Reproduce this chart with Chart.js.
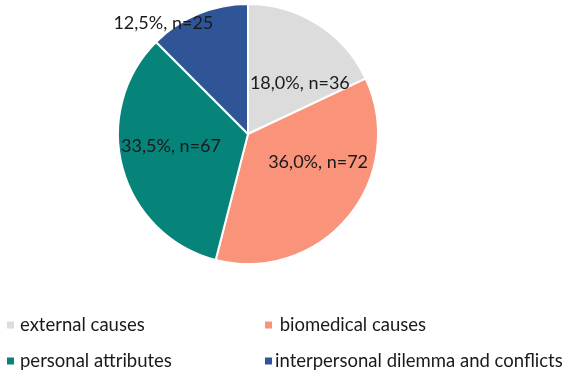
<!DOCTYPE html>
<html>
<head>
<meta charset="utf-8">
<script src="https://cdn.jsdelivr.net/npm/chart.js@4.4.1/dist/chart.umd.min.js"></script>
<style>
    html, body { margin: 0; padding: 0; background: #ffffff; }
    #wrap { width: 566px; height: 375px; position: relative; }
</style>
</head>
<body>
<div id="wrap"><canvas id="pieChart" width="566" height="375"></canvas></div>
<script>
// categories and values
const categories = ['external causes', ' biomedical causes', 'personal attributes', 'interpersonal dilemma and conflicts'];
const percentages = [18.0, 36.0, 33.5, 12.5];
const counts = [36, 72, 67, 25];
const sliceColors = ['#dcdcdc', '#f9937a', '#07847a', '#2f5597'];

// label placement: angle shift (deg) from slice middle, distance as fraction of radius
const labelShift = [13, -18, 6, -15];
const labelDist = [0.56, 0.58, 0.6, 1.07];

const LABEL_FONT = '18px Lato, "Open Sans", sans-serif';
const LEGEND_FONT = '18.5px Lato, "Open Sans", sans-serif';

const sliceLabels = {
    id: 'sliceLabels',
    afterDatasetsDraw(chart) {
        const ctx = chart.ctx;
        const meta = chart.getDatasetMeta(0);
        ctx.save();
        ctx.font = LABEL_FONT;
        ctx.fillStyle = '#1a1a1a';
        ctx.textAlign = 'center';
        ctx.textBaseline = 'middle';
        meta.data.forEach((arc, i) => {
            const p = arc.getProps(['x', 'y', 'startAngle', 'endAngle', 'outerRadius'], true);
            const mid = (p.startAngle + p.endAngle) / 2 + labelShift[i] * Math.PI / 180;
            const r = p.outerRadius * labelDist[i];
            const txt = percentages[i].toFixed(1).replace('.', ',') + '%, n=' + counts[i];
            ctx.fillText(txt, p.x + Math.cos(mid) * r, p.y + Math.sin(mid) * r);
        });
        ctx.restore();
    }
};

// two-column legend under the pie
const gridLegend = {
    id: 'gridLegend',
    afterDraw(chart) {
        const ctx = chart.ctx;
        const boxX = [7, 265];
        const textX = [20, 275];
        const rows = [325, 361];
        ctx.save();
        ctx.font = LEGEND_FONT;
        ctx.textBaseline = 'middle';
        chart.data.labels.forEach((lab, i) => {
            const c = i % 2, r = Math.floor(i / 2);
            ctx.fillStyle = sliceColors[i];
            ctx.fillRect(boxX[c], rows[r] - 3.5, 7, 7);
            ctx.fillStyle = '#1a1a1a';
            ctx.fillText(lab, textX[c], rows[r]);
        });
        ctx.restore();
    }
};

const ctx = document.getElementById('pieChart').getContext('2d');
new Chart(ctx, {
    type: 'pie',
    data: {
        labels: categories,
        datasets: [{
            data: percentages,
            backgroundColor: sliceColors,
            borderColor: '#ffffff',
            borderWidth: 2
        }]
    },
    options: {
        responsive: false,
        animation: false,
        layout: { padding: { left: 0, right: 70, top: 3, bottom: 110 } },
        plugins: {
            legend: { display: false },
            tooltip: { enabled: false }
        }
    },
    plugins: [sliceLabels, gridLegend]
});
</script>
</body>
</html>
